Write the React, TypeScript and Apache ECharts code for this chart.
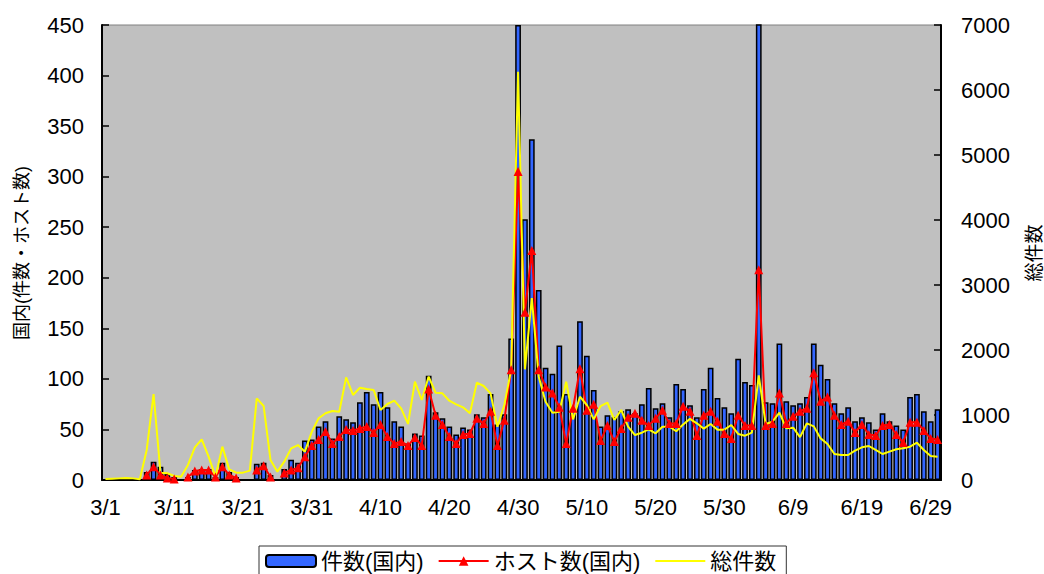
import React, { useEffect, useRef } from "react";
import * as echarts from "echarts";

// Months covered (March - June), days in each
const months = [3, 4, 5, 6];
const monthDays = [31, 30, 31, 30];
const categories: string[] = [];
months.forEach((m, k) => {
  for (let d = 1; d <= monthDays[k]; d++) categories.push(`${m}/${d}`);
});

// 件数(国内) — left axis
const domesticCount: (number | null)[] = [
  null, null, null, null, null, null, 8, 18, 13, 6,
  3, null, 3, 10, 11, 11, 3, 17, 8, 3,
  null, null, 16, 17, 5, null, 11, 20, 17, 39,
  40, 53, 58, 41, 63, 60, 57, 77, 87, 75,
  87, 72, 58, 53, 36, 46, 44, 103, 67, 61,
  53, 45, 52, 50, 65, 62, 85, 55, 65, 140,
  450, 258, 337, 188, 111, 105, 133, 85, 70, 157,
  123, 89, 53, 64, 62, 68, 70, 66, 75, 91,
  71, 76, 62, 95, 90, 74, 62, 90, 111, 81,
  72, 66, 120, 97, 94, 700, 77, 76, 135, 78,
  74, 76, 82, 135, 114, 100, 76, 66, 72, 58,
  62, 57, 50, 66, 58, 54, 50, 82, 85, 68,
  58, 70,
];

// ホスト数(国内) — left axis
const domesticHosts: (number | null)[] = [
  null, null, null, null, null, null, 5, 13, 5, 2,
  1, null, 3, 9, 10, 10, 3, 13, 5, 2,
  null, null, 10, 14, 3, null, 7, 10, 12, 23,
  34, 40, 48, 36, 43, 50, 49, 51, 53, 47,
  55, 43, 36, 38, 34, 42, 34, 90, 64, 55,
  43, 36, 45, 46, 61, 56, 68, 34, 59, 109,
  305, 166, 227, 109, 92, 86, 72, 36, 71, 110,
  69, 75, 39, 54, 38, 51, 62, 66, 59, 54,
  61, 69, 56, 56, 73, 68, 44, 64, 68, 58,
  46, 41, 64, 54, 54, 208, 54, 56, 86, 56,
  63, 68, 71, 106, 78, 82, 64, 55, 58, 47,
  55, 45, 44, 54, 55, 45, 37, 57, 57, 49,
  41, 40,
];

// 総件数 — right axis
const totalCount: number[] = [
  15, 20, 25, 30, 25, 10, 462, 1323, 113, 103,
  62, 51, 231, 503, 626, 359, 51, 513, 164, 113,
  113, 144, 1257, 1139, 308, 128, 282, 487, 538, 436,
  740, 949, 1026, 1062, 1051, 1579, 1308, 1420, 1400, 1385,
  1077, 1169, 1220, 1103, 862, 1513, 1231, 1590, 1344, 1333,
  1220, 1164, 1118, 1026, 1497, 1446, 1333, 820, 1154, 1700,
  6280, 1703, 2800, 1590, 1205, 1036, 1051, 1513, 933, 1282,
  1154, 933, 1138, 1190, 923, 1077, 820, 692, 728, 779,
  718, 820, 820, 750, 855, 940, 872, 790, 862, 775,
  775, 846, 708, 682, 728, 1610, 862, 897, 1036, 795,
  805, 660, 872, 825, 640, 554, 400, 385, 385, 451,
  503, 523, 462, 400, 436, 472, 487, 513, 574, 462,
  369, 359,
];

const FONT = '"Liberation Sans", Arial, "Noto Sans CJK JP", sans-serif';

export default function App() {
  const ref = useRef<HTMLDivElement>(null);
  useEffect(() => {
    if (!ref.current) return;
    const chart = echarts.init(ref.current, undefined, { renderer: "svg" });
    const option: any = {
      animation: false,
      backgroundColor: "#ffffff",
      textStyle: { fontFamily: FONT, color: "#000" },
      grid: {
        left: 102,
        right: 103,
        top: 25,
        bottom: 94,
        show: true,
        backgroundColor: "#C0C0C0",
        borderColor: "#808080",
        borderWidth: 1,
      },
      legend: {
        left: 259,
        top: 546,
        padding: [4, 10, 8, 6],
        itemWidth: 50,
        itemHeight: 12,
        itemGap: 14,
        borderColor: "#333",
        borderWidth: 1,
        textStyle: { fontSize: 22, color: "#000", fontFamily: FONT },
        data: [
          "件数(国内)",
          "ホスト数(国内)",
          { name: "総件数", itemStyle: { opacity: 0 } },
        ],
      },
      xAxis: {
        type: "category",
        data: categories,
        boundaryGap: true,
        axisLine: { show: true, lineStyle: { color: "#000", width: 2 } },
        axisTick: { show: false },
        axisLabel: { interval: 9, color: "#000", fontSize: 22, margin: 16, fontFamily: FONT },
        splitLine: { show: false },
      },
      yAxis: [
        {
          type: "value",
          min: 0,
          max: 450,
          interval: 50,
          axisLine: { show: true, lineStyle: { color: "#000", width: 2 } },
          axisTick: { show: true, inside: true, length: 7, lineStyle: { color: "#000", width: 1.5 } },
          axisLabel: { color: "#000", fontSize: 22, margin: 18, fontFamily: FONT },
          splitLine: { show: false },
        },
        {
          type: "value",
          min: 0,
          max: 7000,
          interval: 1000,
          position: "right",
          axisLine: { show: true, lineStyle: { color: "#000", width: 2 } },
          axisTick: { show: true, inside: true, length: 7, lineStyle: { color: "#000", width: 1.5 } },
          axisLabel: {
            color: "#000",
            fontSize: 22,
            margin: 20,
            fontFamily: FONT,
            formatter: (v: number) => String(v),
          },
          splitLine: { show: false },
        },
      ],
      graphic: [
        {
          type: "text",
          x: 22,
          y: 253,
          rotation: Math.PI / 2,
          style: {
            text: "国内(件数・ホスト数)",
            font: `18px ${FONT}`,
            fill: "#000",
            align: "center",
            verticalAlign: "middle",
            textAlign: "center",
            textVerticalAlign: "middle",
          },
        },
        {
          type: "text",
          x: 1034,
          y: 253,
          rotation: Math.PI / 2,
          style: {
            text: "総件数",
            font: `19px ${FONT}`,
            fill: "#000",
            align: "center",
            verticalAlign: "middle",
            textAlign: "center",
            textVerticalAlign: "middle",
          },
        },
      ],
      series: [
        {
          name: "件数(国内)",
          type: "bar",
          data: domesticCount,
          barCategoryGap: "16%",
          clip: true,
          itemStyle: { color: "#3366FF", borderColor: "#000", borderWidth: 1.5 },
        },
        {
          name: "ホスト数(国内)",
          type: "line",
          data: domesticHosts,
          symbol: "triangle",
          symbolSize: 9,
          showAllSymbol: true,
          connectNulls: false,
          lineStyle: { color: "#FF0000", width: 2 },
          itemStyle: { color: "#FF0000" },
        },
        {
          name: "総件数",
          type: "line",
          yAxisIndex: 1,
          data: totalCount,
          symbol: "none",
          lineStyle: { color: "#FFFF00", width: 2 },
          itemStyle: { color: "#FFFF00" },
        },
      ],
    };
    chart.setOption(option);
    return () => chart.dispose();
  }, []);
  return (
    <div
      ref={ref}
      style={{ position: "fixed", left: 0, top: 0, width: 1044, height: 574, background: "#fff" }}
    />
  );
}
